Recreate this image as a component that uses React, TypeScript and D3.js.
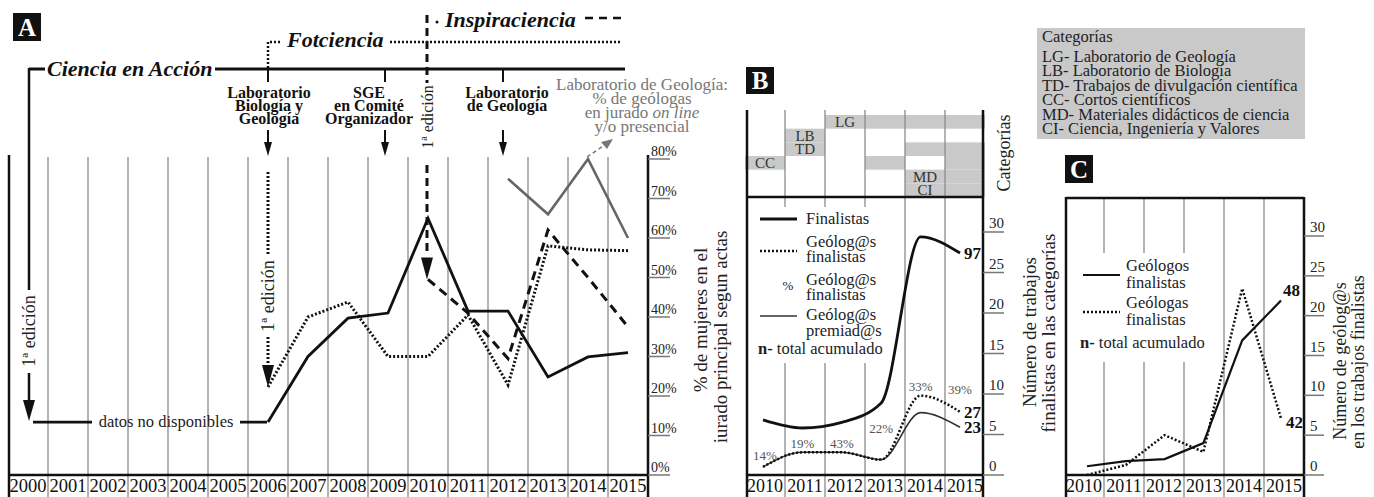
import * as d3 from "d3";

// ---- panel A data (% de mujeres en el jurado) ----
const yearsA = [2000, 2001, 2002, 2003, 2004, 2005, 2006, 2007, 2008, 2009, 2010, 2011, 2012, 2013, 2014, 2015];
const cienciaYears = [2006, 2007, 2008, 2009, 2010, 2011, 2012, 2013, 2014, 2015];
const cienciaValues = [13.4, 30, 39.7, 41, 65, 41.5, 41.5, 24.8, 29.9, 31];
const fotcienciaValues = [22.3, 40, 43.8, 30, 30, 40.5, 22.8, 58, 57, 56.8];
const inspiraYears = [2010, 2011, 2012, 2013, 2014, 2015];
const inspiraValues = [49.5, 41, 29.5, 62, 50, 37.5];
const juradoYears = [2012, 2013, 2014, 2015];
const juradoValues = [75, 66, 80, 60];
const pctTicks = [0, 10, 20, 30, 40, 50, 60, 70, 80];

// ---- panel B data ----
const yearsBC = [2010, 2011, 2012, 2013, 2014, 2015];
const finalistas = [6.8, 5.8, 6.5, 8.9, 29.4, 27.4];
const geologFinalistas = [1, 2.8, 2.8, 1.9, 9.8, 7.8];
const geologPremiados = [1, 2.8, 2.8, 1.9, 7.7, 5.9];
const pctGeolog = ["14%", "19%", "43%", "22%", "33%", "39%"];
const totalsB = ["97", "27", "23"];
const countTicks = [0, 5, 10, 15, 20, 25, 30];
const categoryRows = ["LG", "LB", "TD", "CC", "MD", "CI"];
const categoriesByYear = [
  ["CC"],
  ["LB", "TD"],
  ["LG"],
  ["LG", "CC"],
  ["LG", "TD", "MD", "CI"],
  ["LG", "TD", "CC", "MD", "CI"],
];
const categoryLabels: [number, string][] = [
  [2010, "CC"], [2011, "LB"], [2011, "TD"], [2012, "LG"], [2014, "MD"], [2014, "CI"],
];
const categoryLegend = [
  "LG- Laboratorio de Geología",
  "LB- Laboratorio de Biología",
  "TD- Trabajos de divulgación científica",
  "CC- Cortos científicos",
  "MD- Materiales didácticos de ciencia",
  "CI- Ciencia, Ingeniería y Valores",
];

// ---- panel C data ----
const geologos = [1.1, 1.75, 2, 4, 16.9, 21.9];
const geologas = [0, 1.25, 5, 2.9, 23.4, 7.1];
const totalsC = ["48", "42"];

const FONT = "'Liberation Serif', 'DejaVu Serif', serif";
const GRID = "#8a8a8a";
const CELL = "#c9c9c9";

const downArrow = (x: number, tip: number, w: number, l: number) =>
  `M${x - w / 2},${tip - l}L${x + w / 2},${tip - l}L${x},${tip}Z`;

const pctLabelCenter = [455, 443, 443, 428, 386, 389];

function RotText({ x, y, size, children, fill = "#222" }: any) {
  return (
    <text transform={`translate(${x},${y}) rotate(-90)`} textAnchor="middle"
      dominantBaseline="central" fontSize={size} fill={fill}>{children}</text>
  );
}

export default function App() {
  // scales A
  const bandA = d3.scaleBand<number>().domain(yearsA).range([8, 648]);
  const xA = d3.scalePoint<number>().domain(yearsA).range([28, 628]);
  const yA = d3.scaleLinear().domain([0, 80]).range([475, 159]);
  const lineA = d3.line<[number, number]>().x(d => xA(d[0])!).y(d => yA(d[1]));
  const zip = (ys: number[], vs: number[]) => ys.map((y, i) => [y, vs[i]] as [number, number]);

  // scales B
  const bandB = d3.scaleBand<number>().domain(yearsBC).range([745, 985]);
  const xB = d3.scalePoint<number>().domain(yearsBC).range([763, 960]);
  const yB = d3.scaleLinear().domain([0, 30]).range([475, 232]);
  const rowB = d3.scaleBand<string>().domain(categoryRows).range([115, 197]);
  const lineB = d3.line<number>().x((_, i) => xB(yearsBC[i])!).y(d => yB(d)).curve(d3.curveMonotoneX);

  // scales C
  const bandC = d3.scaleBand<number>().domain(yearsBC).range([1064, 1304]);
  const xC = d3.scalePoint<number>().domain(yearsBC).range([1087, 1281]);
  const yC = d3.scaleLinear().domain([0, 30]).range([475, 236]);
  const lineC = d3.line<number>().x((_, i) => xC(yearsBC[i])!).y(d => yC(d));

  const events = [
    { year: 2006, dx: 0, ldx: 1, lines: ["Laboratorio", "Biología y", "Geología"] },
    { year: 2009, dx: -3, ldx: -19, lines: ["SGE", "en Comité", "Organizador"] },
    { year: 2012, dx: -5, ldx: -1, lines: ["Laboratorio", "de Geología"] },
  ];
  const baseY = yA(cienciaValues[0]);

  return (
    <svg width={1374} height={497} style={{ position: "absolute", left: 0, top: 0, background: "#fff", fontFamily: FONT }}>
      {/* ================= PANEL A ================= */}
      <rect x={13} y={13} width={28} height={28} fill="#111" />
      <text x={27} y={36} textAnchor="middle" fill="#fff" fontSize={25} fontWeight="bold">A</text>

      {/* grid */}
      {yearsA.slice(1).map(y => (
        <line key={y} x1={bandA(y)} x2={bandA(y)} y1={157} y2={497} stroke={GRID} strokeWidth={1.3} />
      ))}
      <line x1={9} x2={9} y1={155} y2={497} stroke="#111" strokeWidth={2.5} />
      <line x1={648} x2={648} y1={155} y2={497} stroke="#111" strokeWidth={2.5} />
      <line x1={9} x2={648} y1={475} y2={475} stroke="#111" strokeWidth={2.5} />
      {yearsA.map(y => (
        <text key={y} x={bandA(y)! + bandA.bandwidth() / 2} y={492} textAnchor="middle" fontSize={18.5} fill="#111">{y}</text>
      ))}
      {pctTicks.map(t => (
        <g key={t}>
          <line x1={648} x2={670} y1={yA(t)} y2={yA(t)} stroke="#777" strokeWidth={1.5} />
          <text x={651} y={yA(t) - 3} fontSize={14} fill="#222">{t}%</text>
        </g>
      ))}
      <RotText x={700} y={320} size={19}>% de mujeres en el</RotText>
      <RotText x={720} y={337} size={19}>iurado principal segun actas</RotText>

      {/* Ciencia en Acción bracket */}
      <path d="M29,69H45M215,69H625" stroke="#111" strokeWidth={3} fill="none" />
      <path d="M29,68V290M29,373V402" stroke="#111" strokeWidth={2.5} fill="none" />
      <path d={downArrow(29, baseY - 1, 12, 21)} fill="#111" />
      <RotText x={29} y={331} size={18}>1ª edición</RotText>
      <text x={47} y={76} fontSize={22} fontWeight="bold" fontStyle="italic" fill="#111">Ciencia en Acción</text>

      {/* event ticks, labels and arrows */}
      {events.map(e => {
        const x = xA(e.year)! + e.dx;
        const lx = xA(e.year)! + e.ldx;
        return (
          <g key={e.year}>
            <line x1={x} x2={x} y1={69} y2={82} stroke="#111" strokeWidth={2} />
            {e.lines.map((l, i) => (
              <text key={i} x={lx} y={98 + i * 13} textAnchor="middle" fontSize={16} fontWeight="bold" fill="#111">{l}</text>
            ))}
            <line x1={x} x2={x} y1={130} y2={143} stroke="#111" strokeWidth={2} />
            <path d={downArrow(x, 156, 8, 14)} fill="#111" />
          </g>
        );
      })}

      {/* Fotciencia */}
      <path d="M268,68V42H280" stroke="#111" strokeWidth={2.5} strokeDasharray="2 2" fill="none" />
      <text x={287} y={47} fontSize={22} fontWeight="bold" fontStyle="italic" fill="#111">Fotciencia</text>
      <line x1={390} x2={622} y1={42} y2={42} stroke="#111" strokeWidth={2.5} strokeDasharray="2 2" />
      <path d="M268,172V256M268,337V366" stroke="#111" strokeWidth={3} strokeDasharray="2 2" fill="none" />
      <path d={downArrow(268, yA(fotcienciaValues[0]), 12, 22)} fill="#111" />
      <RotText x={268} y={296} size={18}>1ª edición</RotText>

      {/* Inspiraciencia */}
      <path d="M427,15V83M427,165V256" stroke="#111" strokeWidth={3} strokeDasharray="8 5" fill="none" />
      <circle cx={437} cy={22} r={1.5} fill="#111" />
      <path d={downArrow(427, yA(inspiraValues[0]), 12, 22)} fill="#111" />
      <RotText x={427} y={117} size={16}>1ª edición</RotText>
      <text x={445} y={27} fontSize={22} fontWeight="bold" fontStyle="italic" fill="#111">Inspiraciencia</text>
      <line x1={585} x2={622} y1={18} y2={18} stroke="#111" strokeWidth={2.5} strokeDasharray="8 6" />

      {/* grey annotation */}
      <g fill="#777" fontSize={17} textAnchor="middle">
        <text x={642} y={90}>Laboratorio de Geología:</text>
        <text x={642} y={104}>% de geólogas</text>
        <text x={642} y={118}>en jurado <tspan fontStyle="italic">on line</tspan></text>
        <text x={642} y={132}>y/o presencial</text>
      </g>
      <line x1={587} y1={157} x2={606} y2={144} stroke="#777" strokeWidth={1.5} strokeDasharray="4 3" />
      <path d="M613,139L601,142L607,149Z" fill="#777" />

      {/* datos no disponibles */}
      <path d={`M33,${baseY}H92M240,${baseY}H267`} stroke="#111" strokeWidth={2.8} fill="none" />
      <text x={166} y={baseY + 5} textAnchor="middle" fontSize={16.5} fill="#222">datos no disponibles</text>

      {/* series A */}
      <path d={lineA(zip(juradoYears, juradoValues))!} fill="none" stroke="#666" strokeWidth={2.6} />
      <path d={lineA(zip(cienciaYears, fotcienciaValues))!} fill="none" stroke="#111" strokeWidth={3} strokeDasharray="2 2" />
      <path d={lineA(zip(inspiraYears, inspiraValues))!} fill="none" stroke="#111" strokeWidth={3} strokeDasharray="9 6" />
      <path d={lineA(zip(cienciaYears, cienciaValues))!} fill="none" stroke="#111" strokeWidth={2.8} />

      {/* ================= PANEL B ================= */}
      <rect x={746} y={67} width={28} height={27} fill="#111" />
      <text x={760} y={89} textAnchor="middle" fill="#fff" fontSize={25} fontWeight="bold">B</text>

      {categoriesByYear.map((cats, i) => cats.map(c => (
        <rect key={`${i}-${c}`} x={bandB(yearsBC[i])} y={rowB(c)} width={bandB.bandwidth()} height={rowB.bandwidth()} fill={CELL} />
      )))}
      {categoryLabels.map(([y, c]) => (
        <text key={`${y}${c}`} x={bandB(y)! + bandB.bandwidth() / 2} y={rowB(c)! + rowB.bandwidth() / 2 + 5}
          textAnchor="middle" fontSize={15} fill="#333">{c}</text>
      ))}
      {yearsBC.slice(1).map((y, i) => (
        i < 3 ? (
          <g key={y}>
            <line x1={bandB(y)} x2={bandB(y)} y1={110} y2={207} stroke={GRID} strokeWidth={1.3} />
            <line x1={bandB(y)} x2={bandB(y)} y1={363} y2={497} stroke={GRID} strokeWidth={1.3} />
          </g>
        ) : (
          <line key={y} x1={bandB(y)} x2={bandB(y)} y1={110} y2={497} stroke={GRID} strokeWidth={1.3} />
        )
      ))}
      <line x1={747} x2={747} y1={110} y2={497} stroke="#111" strokeWidth={2.5} />
      <line x1={983} x2={983} y1={110} y2={497} stroke="#111" strokeWidth={2.5} />
      <line x1={747} x2={983} y1={197} y2={197} stroke="#111" strokeWidth={2.5} />
      <line x1={747} x2={983} y1={475} y2={475} stroke="#111" strokeWidth={2.5} />
      <RotText x={1004} y={153} size={18}>Categorías</RotText>
      {yearsBC.map(y => (
        <text key={y} x={bandB(y)! + bandB.bandwidth() / 2} y={492} textAnchor="middle" fontSize={18} fill="#111">{y}</text>
      ))}
      {countTicks.map(t => (
        <g key={t}>
          <line x1={983} x2={1004} y1={yB(t)} y2={yB(t)} stroke="#777" strokeWidth={1.5} />
          <text x={989} y={yB(t) - 4} fontSize={15} fill="#222">{t}</text>
        </g>
      ))}
      <RotText x={1029} y={332} size={19}>Número de trabajos</RotText>
      <RotText x={1048} y={333} size={19}>finalistas en las categorías</RotText>

      {/* legend B */}
      <g fontSize={16.5} fill="#222">
        <line x1={760} x2={797} y1={219} y2={219} stroke="#111" strokeWidth={2.8} />
        <text x={806} y={224}>Finalistas</text>
        <line x1={760} x2={797} y1={251} y2={251} stroke="#111" strokeWidth={2.5} strokeDasharray="2 2" />
        <text x={806} y={247}>Geólog@s</text>
        <text x={806} y={262}>finalistas</text>
        <text x={788} y={290} fontSize={13} textAnchor="middle">%</text>
        <text x={806} y={285}>Geólog@s</text>
        <text x={806} y={300}>finalistas</text>
        <line x1={760} x2={797} y1={316} y2={316} stroke="#333" strokeWidth={1.5} />
        <text x={806} y={320}>Geólog@s</text>
        <text x={806} y={336}>premiad@s</text>
        <text x={758} y={354}><tspan fontWeight="bold">n-</tspan> total acumulado</text>
      </g>

      {/* series B */}
      <path d={lineB(geologPremiados)!} fill="none" stroke="#333" strokeWidth={1.6} />
      <path d={lineB(geologFinalistas)!} fill="none" stroke="#111" strokeWidth={2.5} strokeDasharray="2 2" />
      <path d={lineB(finalistas)!} fill="none" stroke="#111" strokeWidth={2.8} />
      {pctGeolog.map((p, i) => (
        <text key={i} x={xB(yearsBC[i])! + (i === 0 ? 2 : 0)} y={pctLabelCenter[i] + 4.5} textAnchor="middle" fontSize={13} fill="#555">{p}</text>
      ))}
      {[finalistas, geologFinalistas, geologPremiados].map((s, i) => (
        <text key={i} x={981} y={yB(s[s.length - 1]) + 6} textAnchor="end" fontSize={17} fontWeight="bold" fill="#111">{totalsB[i]}</text>
      ))}

      {/* categories legend box */}
      <rect x={1037} y={28} width={268} height={111} fill={CELL} />
      <g fontSize={16.5} fill="#222">
        <text x={1042} y={42}>Categorías</text>
        {categoryLegend.map((l, i) => (
          <text key={l} x={1042} y={61.5 + i * 14.5}>{l}</text>
        ))}
      </g>

      {/* ================= PANEL C ================= */}
      <rect x={1065} y={155} width={28} height={28} fill="#111" />
      <text x={1079} y={178} textAnchor="middle" fill="#fff" fontSize={25} fontWeight="bold">C</text>
      {yearsBC.slice(1).map((y, i) => (
        i < 3 ? (
          <g key={y}>
            <line x1={bandC(y)} x2={bandC(y)} y1={198} y2={253} stroke={GRID} strokeWidth={1.3} />
            <line x1={bandC(y)} x2={bandC(y)} y1={362} y2={497} stroke={GRID} strokeWidth={1.3} />
          </g>
        ) : (
          <line key={y} x1={bandC(y)} x2={bandC(y)} y1={198} y2={497} stroke={GRID} strokeWidth={1.3} />
        )
      ))}
      <line x1={1066} x2={1066} y1={197} y2={497} stroke="#111" strokeWidth={2.5} />
      <line x1={1304} x2={1304} y1={197} y2={497} stroke="#111" strokeWidth={2.5} />
      <line x1={1066} x2={1304} y1={198} y2={198} stroke="#111" strokeWidth={2.5} />
      <line x1={1066} x2={1304} y1={475} y2={475} stroke="#111" strokeWidth={2.5} />
      {yearsBC.map(y => (
        <text key={y} x={bandC(y)! + bandC.bandwidth() / 2} y={492} textAnchor="middle" fontSize={18} fill="#111">{y}</text>
      ))}
      {countTicks.map(t => (
        <g key={t}>
          <line x1={1304} x2={1324} y1={yC(t)} y2={yC(t)} stroke="#777" strokeWidth={1.5} />
          <text x={1310} y={yC(t) - 4} fontSize={15} fill="#222">{t}</text>
        </g>
      ))}
      <RotText x={1340} y={361} size={18}>Número de geólog@s</RotText>
      <RotText x={1358} y={362} size={18}>en los trabajos finalistas</RotText>

      <g fontSize={16.5} fill="#222">
        <line x1={1083} x2={1120} y1={275} y2={275} stroke="#111" strokeWidth={2.2} />
        <text x={1126} y={271}>Geólogos</text>
        <text x={1126} y={288}>finalistas</text>
        <line x1={1083} x2={1120} y1={312} y2={312} stroke="#111" strokeWidth={2.5} strokeDasharray="2 2" />
        <text x={1126} y={308}>Geólogas</text>
        <text x={1126} y={325}>finalistas</text>
        <text x={1080} y={348}><tspan fontWeight="bold">n-</tspan> total acumulado</text>
      </g>

      <path d={lineC(geologas)!} fill="none" stroke="#111" strokeWidth={2.5} strokeDasharray="2 2" />
      <path d={lineC(geologos)!} fill="none" stroke="#111" strokeWidth={2.2} />
      <text x={1283} y={yC(geologos[5]) - 5} fontSize={17} fontWeight="bold" fill="#111">{totalsC[0]}</text>
      <text x={1286} y={yC(geologas[5]) + 10} fontSize={17} fontWeight="bold" fill="#111">{totalsC[1]}</text>
    </svg>
  );
}
